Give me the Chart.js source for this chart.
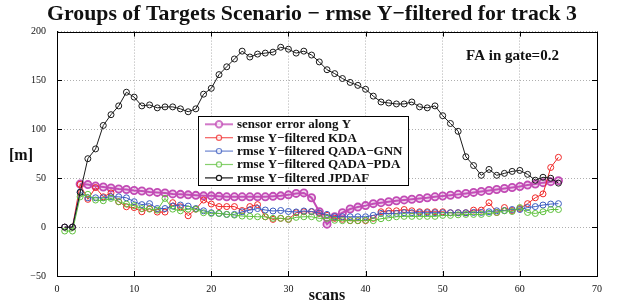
<!DOCTYPE html>
<html><head><meta charset="utf-8">
<script src="https://cdn.jsdelivr.net/npm/chart.js@4.4.1/dist/chart.umd.min.js"></script>
<style>html,body{margin:0;padding:0;background:#fff}#wrap{width:624px;height:304px}</style>
</head><body><div id="wrap"><canvas id="c" width="624" height="304"></canvas></div>
<script>
const scans=[1,2,3,4,5,6,7,8,9,10,11,12,13,14,15,16,17,18,19,20,21,22,23,24,25,26,27,28,29,30,31,32,33,34,35,36,37,38,39,40,41,42,43,44,45,46,47,48,49,50,51,52,53,54,55,56,57,58,59,60,61,62,63,64,65];
const sensorErr=[null,null,44,43.5,42,41,40,39,38.5,37.5,37,36,35.5,35,34,33.5,33,32.5,32,32,31.5,31,31,31,31,31,31,31.5,32,33,34.5,35,30,15.7,3,10.6,14.7,18.5,20.5,22,24,25,26,27,27.8,28.5,29.2,30,31,31.8,32.6,33.5,34.5,35.5,36.5,37.5,38.5,39.5,40.5,41.5,43,44,45.5,46.5,47.5];
const kda=[0,0,43.7,28.4,40.5,31,35,26,20.8,20,15.7,19,15.4,15.4,25,20.8,11.6,18.4,27.7,23.6,21,21,21,17,21,23,10.6,7.9,9,7.9,14.7,15.7,15.7,14,12,9,8,6.6,6.6,6.6,9,15.7,16.7,16.7,18,16.7,15.7,15.7,15.7,15.7,14.7,14.7,14.7,17.4,17.4,25,15,20,17,19,24,30,34,61,71.4];
const gnn=[0,0,36,30,30,30,31,31,30,26,23,24,19,19,21.5,22.6,21.5,19,16.7,14.7,14,13,13,15.7,17.4,19,17.5,16.5,17,16,15.5,16.5,16,14.5,13,10.6,10.6,10.6,10.6,10.6,12,14,14,14,14.7,14.7,14.7,14.7,14.7,14.7,14.7,14.7,14.7,15,15,15.7,16.7,17,18,18,20,21,22.6,23.6,24];
const pda=[-4,-4,31,33.5,27.7,27,29.4,26,23.6,22,19,18.4,17.4,29.4,18.4,16.7,18.4,18.4,14.7,14,14,13,12.3,11.3,11,10.6,10.6,9,9,8,10,10.6,10.6,9,9,7,6.6,6.6,6.6,7,6.6,8.6,9.6,10.6,11,11,11,11,11,12,12,12.6,13,13,13,14,15,16.7,16,20,15,14,15.7,18,18];
const jpdaf=[0,0,35.5,70,80,104,115,124,138,133,124,125,122,123,123,121,118,121,136,142,156,164,172,180,174,177,178,179,184,182,178,180,176,169,161,157,152,148,145,141,134,128,127,126,126,128,123,122,124,114,106,98,72,63,53,59,53,55,57,58,54,48,51,50,45];
const seriesNames=['sensor error along Y','rmse Y\u2212filtered KDA','rmse Y\u2212filtered QADA\u2212GNN','rmse Y\u2212filtered QADA\u2212PDA','rmse Y\u2212filtered JPDAF'];
const xTicks=[0,10,20,30,40,50,60,70];
const yTicks=[-50,0,50,100,150,200];
const titleText='Groups of Targets Scenario \u2212 rmse Y\u2212filtered for track 3';
const noteText='FA in gate=0.2';

const serif="'Liberation Serif','Times New Roman',serif";
function pts(arr){return scans.map((s,i)=>({x:s,y:arr[i]}));}
const colors=['#c24bb5','#f02828','#3c5cc0','#5ec03c','#1a1a1a'];
const seriesData=[sensorErr,kda,gnn,pda,jpdaf];
const datasets=seriesData.map((arr,i)=>({
  label:seriesNames[i],
  data:pts(arr),
  borderColor:colors[i],
  backgroundColor:colors[i],
  borderWidth:i===0?2:1,
  pointRadius:i===0?3.6:3,
  pointBorderWidth:i===0?1.8:1,
  pointBackgroundColor:i===0?'rgba(200,90,190,0.25)':'rgba(0,0,0,0)',
  pointBorderColor:colors[i],
  tension:0,
  fill:false,
  order:5-i
}));

const extras={id:'extras',afterDraw(chart){
  const ctx=chart.ctx,a=chart.chartArea;
  const xs=chart.scales.x, ys=chart.scales.y;
  ctx.save();
  ctx.strokeStyle='#000';ctx.lineWidth=1;
  ctx.strokeRect(Math.round(a.left)+0.5,Math.round(a.top)+0.5,Math.round(a.right-a.left),Math.round(a.bottom-a.top));
  ctx.beginPath();
  xTicks.forEach(v=>{const px=Math.round(xs.getPixelForValue(v))+0.5;ctx.moveTo(px,a.bottom);ctx.lineTo(px,a.bottom-5);ctx.moveTo(px,a.top);ctx.lineTo(px,a.top+5);});
  yTicks.forEach(v=>{const py=Math.round(ys.getPixelForValue(v))+0.5;ctx.moveTo(a.left,py);ctx.lineTo(a.left+5,py);ctx.moveTo(a.right,py);ctx.lineTo(a.right-5,py);});
  ctx.stroke();
  ctx.fillStyle='#111';ctx.textAlign='center';ctx.textBaseline='middle';
  ctx.font='bold 21.8px '+serif;
  ctx.fillText(titleText,312,14);
  ctx.font='bold 16px '+serif;
  ctx.fillText('[m]',21,156);
  ctx.font='bold 15px '+serif;
  ctx.fillText(noteText,512.5,56);
  const lx=198.5,ly=116.5,lw=210,lh=69;
  ctx.fillStyle='#fff';ctx.fillRect(lx,ly,lw,lh);
  ctx.strokeStyle='#000';ctx.lineWidth=1;ctx.strokeRect(lx,ly,lw,lh);
  ctx.font='bold 13px '+serif;ctx.textAlign='left';
  seriesNames.forEach((n,i)=>{
    const y=124.3+i*13.4;
    ctx.strokeStyle=colors[i];ctx.globalAlpha=i===4?1:0.75;ctx.lineWidth=i===0?2:1.2;
    ctx.beginPath();ctx.moveTo(205,y);ctx.lineTo(233,y);ctx.stroke();
    ctx.beginPath();ctx.arc(219,y,i===0?3.2:2.6,0,Math.PI*2);ctx.fillStyle='#fff';ctx.fill();ctx.stroke();
    ctx.globalAlpha=1;
    ctx.fillStyle='#111';ctx.fillText(n,237,y+0.5);
  });
  ctx.restore();
}};

new Chart(document.getElementById('c'),{
  type:'line',
  data:{datasets},
  options:{
    responsive:false,animation:false,
    layout:{padding:{left:7,right:27,top:31.6,bottom:0}},
    plugins:{legend:{display:false},tooltip:{enabled:false},title:{display:false}},
    scales:{
      x:{type:'linear',min:0,max:70,
        afterFit(s){s.height=28;},
        afterBuildTicks(s){s.ticks=xTicks.map(v=>({value:v}));},
        ticks:{font:{family:serif,size:10},color:'#111',padding:7,maxRotation:0},
        grid:{color:'#9a9a9a',lineWidth:0.8,drawTicks:false},
        border:{display:true,color:'#000',width:1,dash:[1,2]},
        title:{display:true,text:'scans',color:'#111',font:{family:serif,size:16,weight:'bold',lineHeight:1},padding:{top:0,bottom:0}}
      },
      y:{type:'linear',min:-50,max:200,
        afterFit(s){s.width=50;},
        afterBuildTicks(s){s.ticks=yTicks.map(v=>({value:v}));},
        ticks:{font:{family:serif,size:10},color:'#111',padding:11,callback:v=>String(v).replace('-','\u2212')},
        grid:{color:'#9a9a9a',lineWidth:0.8,drawTicks:false},
        border:{display:true,color:'#000',width:1,dash:[1,2]}
      }
    }
  },
  plugins:[extras]
});
</script></body></html>
